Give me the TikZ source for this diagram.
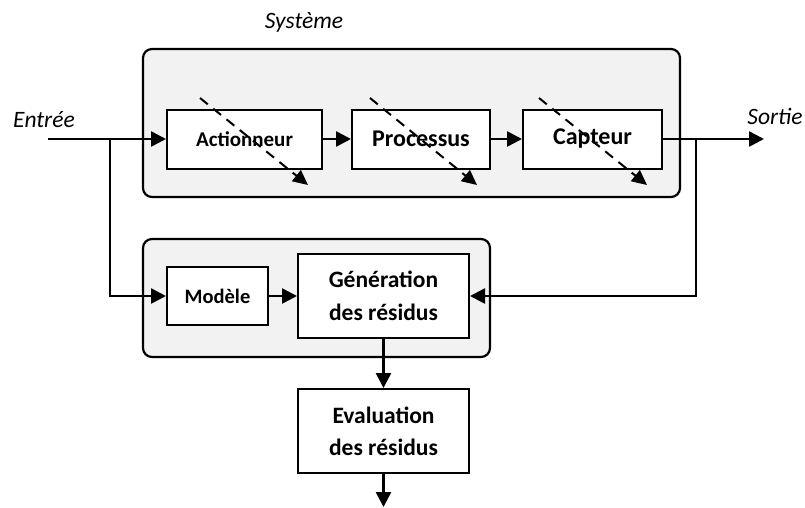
\documentclass[tikz,border=0pt]{standalone}
\usepackage{fontspec}
\setmainfont{Carlito}
\usetikzlibrary{arrows.meta}
\begin{document}
\begin{tikzpicture}[x=1pt,y=-1pt,
  blk/.style={draw, line width=2pt, fill=white, inner sep=0pt, align=center},
  grp/.style={draw, line width=2.2pt, fill=gray!10, rounded corners=9pt, inner sep=0pt},
  link/.style={line width=2.6pt, -{Triangle[length=15pt,width=15pt]}},
  fault/.style={line width=2pt, dash pattern=on 10pt off 7pt,
    -{Triangle[length=15pt,width=14pt]}},
  lbl/.style={font=\itshape\fontsize{23.5}{28}\selectfont}]
\useasboundingbox (0,0) rectangle (805,507);

% containers
\node[grp, minimum width=537pt, minimum height=148pt] (sys) at (411.5,123) {};
\node[grp, minimum width=347pt, minimum height=118pt] (diag) at (316.5,298) {};

% plant blocks
\node[blk, minimum width=155pt, minimum height=59pt,
  font=\bfseries\fontsize{21}{26}\selectfont] (act) at (244.5,139) {Actionneur};
\node[blk, minimum width=138pt, minimum height=59pt,
  font=\bfseries\fontsize{24}{28}\selectfont] (proc) at (421,139) {Processus};
\node[blk, minimum width=139pt, minimum height=59pt,
  font=\bfseries\fontsize{24}{28}\selectfont] (capt) at (592.5,139) {Capteur};

% diagnosis blocks
\node[blk, minimum width=101pt, minimum height=58pt,
  font=\bfseries\fontsize{20.5}{26}\selectfont] (mod) at (217.5,296) {Modèle};
\node[blk, minimum width=171pt, minimum height=84pt,
  font=\bfseries\fontsize{23.5}{33}\selectfont] (gen) at (383.5,296) {Génération\\des résidus};
\node[blk, minimum width=171pt, minimum height=84pt,
  font=\bfseries\fontsize{23.5}{32}\selectfont] (eval) at (383.5,431) {Evaluation\\des résidus};

% labels
\node[lbl] (tsys) at (304,22) {Système};
\node[lbl] (tin) at (44,120) {Entrée};
\node[lbl] (tout) at (775,116) {Sortie};

% free ends and junctions
\coordinate (in) at (48,139);
\coordinate (j1) at (110,139);
\coordinate (j2) at (696,139);
\coordinate (out) at (764,139);
\coordinate (end) at (383.5,507);

% signal flow
\draw[link] (in) -- (act);
\draw[link] (act) -- (proc);
\draw[link] (proc) -- (capt);
\draw[link] (capt.east) -- (out);
\draw[link] (j1) |- (mod.west);
\draw[link] (mod) -- (gen);
\draw[link] (j2) |- (gen.east);
\draw[link] (gen) -- (eval);
\draw[link] (eval.south) -- (end);

% fault arrows across the blocks
\coordinate (f1s) at (200,98);  \coordinate (f1e) at (308,185);
\coordinate (f2s) at (370,98);  \coordinate (f2e) at (477,185);
\coordinate (f3s) at (539,98);  \coordinate (f3e) at (647,185);
\draw[fault] (f1s) -- (f1e);
\draw[fault] (f2s) -- (f2e);
\draw[fault] (f3s) -- (f3e);
\end{tikzpicture}
\end{document}
